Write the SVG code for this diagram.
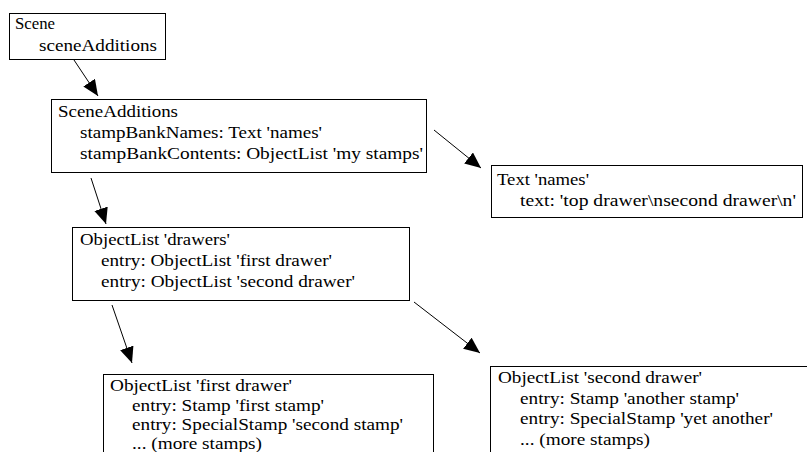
<svg xmlns="http://www.w3.org/2000/svg" width="807" height="452" viewBox="0 0 807 452">
<defs>
<style>
.box{fill:#fff;stroke:#000;stroke-width:1}
.t{font-family:"Liberation Serif","Times New Roman",serif;font-size:17px;fill:#000}
.edge{stroke:#000;stroke-width:1;fill:none;marker-end:url(#ah)}
</style>
<marker id="ah" markerUnits="userSpaceOnUse" markerWidth="18" markerHeight="16" refX="16" refY="7" orient="auto">
<path d="M0,0 L16,7 L0,14 z" fill="#000"/>
</marker>
</defs>
<rect width="807" height="452" fill="#fff"/>
<g id="connectors">
<line class="edge" x1="74" y1="60" x2="98" y2="96"/>
<line class="edge" x1="434" y1="130" x2="481" y2="168"/>
<line class="edge" x1="91" y1="178" x2="106" y2="224"/>
<line class="edge" x1="112" y1="305" x2="132" y2="363"/>
<line class="edge" x1="414" y1="302" x2="480" y2="353"/>
</g>
<g id="scene">
<rect class="box" x="9.5" y="13.5" width="156" height="46"/>
<text class="t" x="15" y="29" textLength="40" lengthAdjust="spacingAndGlyphs">Scene</text>
<text class="t" x="39" y="51" textLength="118" lengthAdjust="spacingAndGlyphs">sceneAdditions</text>
</g>
<g id="sceneAdditions">
<rect class="box" x="51.5" y="99.5" width="375" height="73"/>
<text class="t" x="58" y="116.5" textLength="120" lengthAdjust="spacingAndGlyphs">SceneAdditions</text>
<text class="t" x="80" y="137.5" textLength="242" lengthAdjust="spacingAndGlyphs">stampBankNames: Text 'names'</text>
<text class="t" x="80" y="158.5" textLength="343" lengthAdjust="spacingAndGlyphs">stampBankContents: ObjectList 'my stamps'</text>
</g>
<g id="textNames">
<rect class="box" x="491.5" y="165.5" width="311" height="52"/>
<text class="t" x="497" y="185" textLength="92" lengthAdjust="spacingAndGlyphs">Text 'names'</text>
<text class="t" x="520" y="206" textLength="276" lengthAdjust="spacingAndGlyphs">text: 'top drawer\nsecond drawer\n'</text>
</g>
<g id="drawers">
<rect class="box" x="72.5" y="227.5" width="337" height="73"/>
<text class="t" x="80" y="244.5" textLength="150" lengthAdjust="spacingAndGlyphs">ObjectList 'drawers'</text>
<text class="t" x="101" y="265.5" textLength="231" lengthAdjust="spacingAndGlyphs">entry: ObjectList 'first drawer'</text>
<text class="t" x="101" y="286.5" textLength="254" lengthAdjust="spacingAndGlyphs">entry: ObjectList 'second drawer'</text>
</g>
<g id="firstDrawer">
<rect class="box" x="103.5" y="374.5" width="330" height="100"/>
<text class="t" x="110" y="391" textLength="182" lengthAdjust="spacingAndGlyphs">ObjectList 'first drawer'</text>
<text class="t" x="132" y="410.5" textLength="192" lengthAdjust="spacingAndGlyphs">entry: Stamp 'first stamp'</text>
<text class="t" x="132" y="430" textLength="271" lengthAdjust="spacingAndGlyphs">entry: SpecialStamp 'second stamp'</text>
<text class="t" x="132" y="449" textLength="130" lengthAdjust="spacingAndGlyphs">... (more stamps)</text>
</g>
<g id="secondDrawer">
<rect class="box" x="490.5" y="366.5" width="330" height="100"/>
<text class="t" x="498" y="383" textLength="204" lengthAdjust="spacingAndGlyphs">ObjectList 'second drawer'</text>
<text class="t" x="520" y="403.5" textLength="219" lengthAdjust="spacingAndGlyphs">entry: Stamp 'another stamp'</text>
<text class="t" x="520" y="424" textLength="253" lengthAdjust="spacingAndGlyphs">entry: SpecialStamp 'yet another'</text>
<text class="t" x="520" y="444.5" textLength="130" lengthAdjust="spacingAndGlyphs">... (more stamps)</text>
</g>
</svg>
